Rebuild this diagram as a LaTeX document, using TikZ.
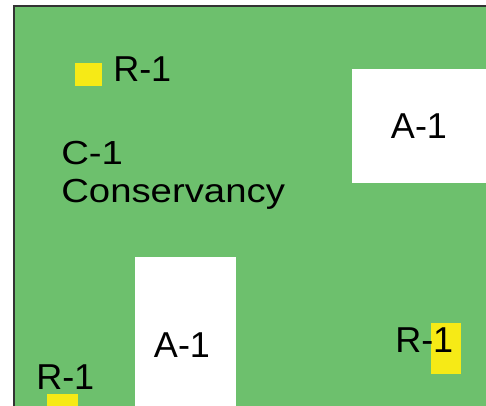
\documentclass[tikz,border=0pt]{standalone}
\usepackage{fontspec}
\setmainfont[FakeStretch=1.15]{Liberation Sans}
\newfontfamily\lblfont{Liberation Sans}
\usepackage{color}
\usepackage{tikz}
\definecolor{zonegreen}{RGB}{109,192,109}
\definecolor{lotyellow}{RGB}{246,234,22}
\definecolor{edgegray}{RGB}{51,51,51}

\begin{document}
\begin{tikzpicture}[x=0.75pt,y=-0.75pt,
    lbl/.style={inner sep=0pt,font=\lblfont\fontsize{27}{30}\selectfont},
    zonelbl/.style={inner sep=0pt,font=\fontsize{25}{28}\selectfont}]
    \useasboundingbox (0,0) rectangle (486,406);
    \fill[white] (0,0) rectangle (486,406);
    % conservancy zone
    \fill[zonegreen] (14,6) rectangle (486,406);
    \draw[line width=1.5pt,edgegray] (14,406) -- (14,6) -- (486,6);
    % A-1 parcels
    \fill[white] (352,69) rectangle (486,183);
    \fill[white] (135,257) rectangle (236,406);
    % R-1 lots
    \fill[lotyellow] (75,63) rectangle (102,86);
    \fill[lotyellow] (431,323) rectangle (461,374);
    \fill[lotyellow] (47,394) rectangle (78,406);
    % labels
    \node[lbl,anchor=base west] (rtop) at (113,82) {R-1};
    \node[lbl,anchor=base] (atop) at (419,139) {A-1};
    \node[lbl,anchor=base] (abot) at (182,357) {A-1};
    \node[lbl,anchor=base west] (rright) at (395,353) {R-1};
    \node[lbl,anchor=base west] (rleft) at (36,389) {R-1};
    \node[zonelbl,anchor=base west] (cone) at (61,165) {C-1};
    \node[zonelbl,anchor=base west] (cname) at (61,203) {Conservancy};
\end{tikzpicture}
\end{document}
